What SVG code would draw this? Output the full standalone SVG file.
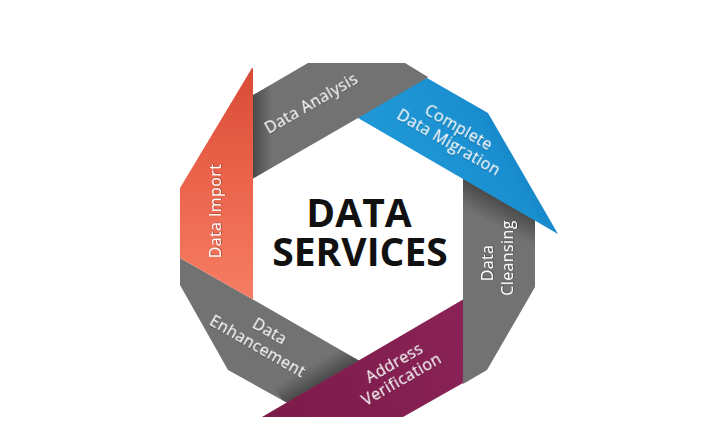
<svg xmlns="http://www.w3.org/2000/svg" width="720" height="436" viewBox="0 0 720 436">
  <style>
    .gray { fill: #727272; }
    .lbl { font-family: "Open Sans", "Liberation Sans", sans-serif; font-size: 16px; fill: #ffffff; text-anchor: middle; letter-spacing: 0.4px; filter: url(#ts); }
    .title { font-family: "Open Sans", "Liberation Sans", sans-serif; font-weight: 700; font-size: 39px; fill: #111111; text-anchor: middle; }
  </style>
  <defs>
    <filter id="ts" x="-10%" y="-30%" width="120%" height="160%">
      <feDropShadow dx="0.6" dy="0.8" stdDeviation="0.6" flood-color="#000" flood-opacity="0.35"/>
    </filter>
    <linearGradient id="gOrange" x1="0" y1="0" x2="0" y2="1">
      <stop offset="0" stop-color="#d84b36"/>
      <stop offset="0.45" stop-color="#ea624a"/>
      <stop offset="1" stop-color="#f67e64"/>
    </linearGradient>
    <linearGradient id="gBlue" gradientUnits="userSpaceOnUse" x1="410" y1="185" x2="520" y2="122">
      <stop offset="0" stop-color="#1f97d7"/>
      <stop offset="0.7" stop-color="#1a8fd0"/>
      <stop offset="1" stop-color="#1380c1"/>
    </linearGradient>
    <linearGradient id="gPurple" gradientUnits="userSpaceOnUse" x1="262" y1="417" x2="463" y2="330">
      <stop offset="0" stop-color="#7c1b4a"/>
      <stop offset="1" stop-color="#8a2256"/>
    </linearGradient>
    <linearGradient id="sh1" gradientUnits="userSpaceOnUse" x1="253" y1="0" x2="272" y2="0">
      <stop offset="0" stop-color="#000" stop-opacity="0.35"/>
      <stop offset="1" stop-color="#000" stop-opacity="0"/>
    </linearGradient>
    <linearGradient id="sh2" gradientUnits="userSpaceOnUse" x1="499" y1="199" x2="487" y2="221">
      <stop offset="0" stop-color="#000" stop-opacity="0.35"/>
      <stop offset="1" stop-color="#000" stop-opacity="0"/>
    </linearGradient>
    <linearGradient id="sh3" gradientUnits="userSpaceOnUse" x1="322" y1="382" x2="312" y2="365">
      <stop offset="0" stop-color="#000" stop-opacity="0.35"/>
      <stop offset="1" stop-color="#000" stop-opacity="0"/>
    </linearGradient>
    <clipPath id="cAnalysis"><polygon points="253,95 308,63 405,63 428,77 400,110 358,118 253,178.5"/></clipPath>
    <clipPath id="cCleansing"><polygon points="463,172 520,195 535,198 535,287 487,370 463,384"/></clipPath>
    <clipPath id="cEnh"><polygon points="180,258 253,299.5 358,360 375,366 300,410 228,370 180,285"/></clipPath>
  </defs>

  <rect x="0" y="0" width="720" height="436" fill="#ffffff"/>

  <g id="node-data-analysis">
    <polygon class="gray" points="253,95 308,63 405,63 428,77 400,110 358,118 253,178.5"/>
    <rect x="253" y="60" width="22" height="125" fill="url(#sh1)" clip-path="url(#cAnalysis)"/>
    <text class="lbl" transform="translate(314,108) rotate(-30)">Data Analysis</text>
  </g>

  <g id="node-data-cleansing">
    <polygon class="gray" points="463,172 520,195 535,198 535,287 487,370 463,384"/>
    <polygon points="463,178.6 535,220.2 535,250 463,208" fill="url(#sh2)" clip-path="url(#cCleansing)"/>
    <text class="lbl" transform="translate(493,263) rotate(-90)">Data</text>
    <text class="lbl" transform="translate(513,258) rotate(-90)">Cleansing</text>
  </g>

  <g id="node-data-enhancement">
    <polygon class="gray" points="180,258 253,299.5 358,360 375,366 300,410 228,370 180,285"/>
    <polygon points="363,358 285,404 272,384 350,338" fill="url(#sh3)" clip-path="url(#cEnh)"/>
    <g transform="translate(267,336) rotate(30)">
      <text class="lbl" x="0" y="0">Data</text>
      <text class="lbl" x="-3" y="19">Enhancement</text>
    </g>
  </g>

  <g id="node-data-import">
    <polygon fill="url(#gOrange)" points="252,68 180,188 180,258 253,299.5 253,68"/>
    <text class="lbl" transform="translate(221,211) rotate(-90)">Data Import</text>
  </g>

  <g id="node-complete-data-migration">
    <polygon fill="url(#gBlue)" points="358,118 427,78 488,113 558,234"/>
    <g transform="translate(456,132) rotate(30)">
      <text class="lbl" x="0" y="0">Complete</text>
      <text class="lbl" x="-1" y="18">Data Migration</text>
    </g>
  </g>

  <g id="node-address-verification">
    <polygon fill="url(#gPurple)" points="463,299.5 463,383 403,417 262,417"/>
    <g transform="translate(397,367.5) rotate(-30)">
      <text class="lbl" x="0" y="0">Address</text>
      <text class="lbl" x="-2" y="18">Verification</text>
    </g>
  </g>

  <g id="node-center">
    <text class="title"><tspan x="359" y="227">DATA</tspan><tspan x="360" y="266">SERVICES</tspan></text>
  </g>
</svg>
